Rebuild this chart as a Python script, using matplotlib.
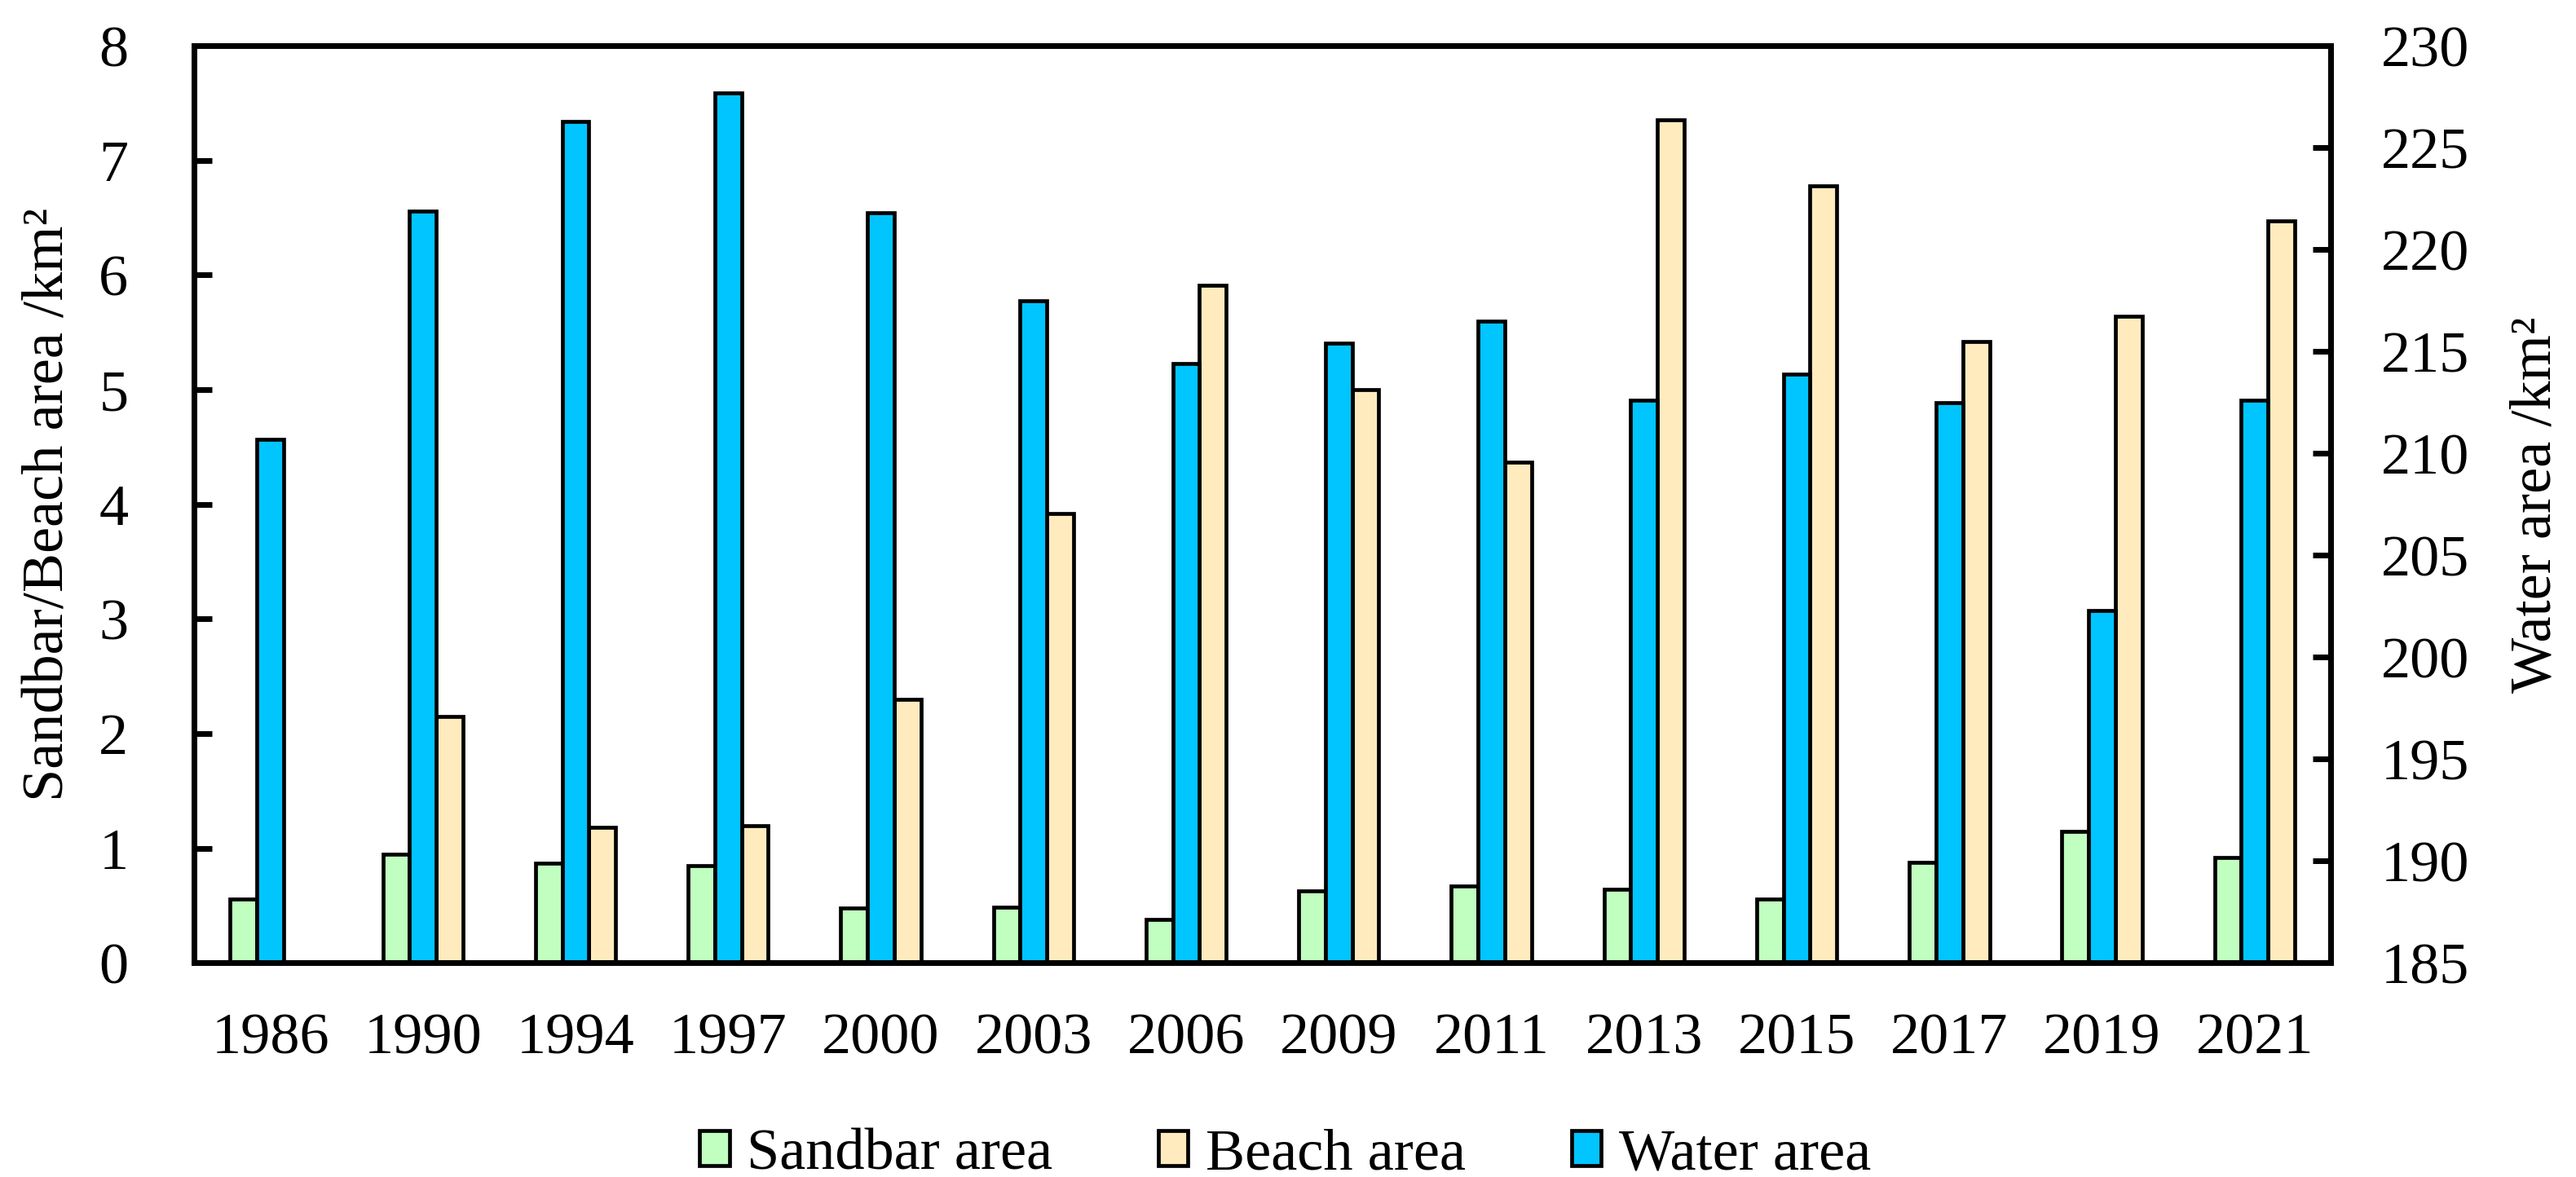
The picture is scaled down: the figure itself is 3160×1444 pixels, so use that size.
import matplotlib
matplotlib.use("Agg")
import matplotlib.pyplot as plt
import numpy as np

plt.rcParams.update({
    "font.family": ["Liberation Serif", "DejaVu Serif"],
    "font.size": 26,
    "axes.linewidth": 2.5,
})

years = ["1986", "1990", "1994", "1997", "2000", "2003", "2006",
         "2009", "2011", "2013", "2015", "2017", "2019", "2021"]
sandbar = [0.56, 0.95, 0.87, 0.85, 0.48, 0.49, 0.38,
           0.63, 0.67, 0.64, 0.56, 0.88, 1.15, 0.92]
beach = [0.0, 2.15, 1.18, 1.20, 2.30, 3.92, 5.91,
         5.00, 4.37, 7.35, 6.78, 5.42, 5.64, 6.47]
water = [210.7, 221.9, 226.3, 227.7, 221.8, 217.5, 214.4,
         215.4, 216.5, 212.6, 213.9, 212.5, 202.3, 212.6]

C_SAND = "#C0FFC0"
C_BEACH = "#FFEBBE"
C_WATER = "#00C5FF"

x = np.arange(len(years))
w = 0.175
edge = dict(edgecolor="black", linewidth=1.7)

fig = plt.figure(figsize=(15.8, 7.22), dpi=200)
ax = fig.add_axes([0.0753, 0.1818, 0.8296, 0.7794])
ax2 = ax.twinx()

b1 = ax.bar(x - w, sandbar, w, color=C_SAND, label="Sandbar area", **edge)
b2 = ax.bar(x + w, beach, w, color=C_BEACH, label="Beach area", **edge)
b3 = ax2.bar(x, water, w, color=C_WATER, label="Water area", **edge)

ax.set_xlim(-0.5, len(years) - 0.5)
ax.set_ylim(0, 8)
ax.set_yticks(np.arange(0, 9, 1))
ax2.set_ylim(185, 230)
ax2.set_yticks(np.arange(185, 231, 5))

ax.set_xticks(x)
ax.set_xticklabels(years)
ax.tick_params(axis="x", length=0, pad=22)
ax.tick_params(axis="y", direction="in", length=8, width=2.5, pad=29)
ax2.tick_params(axis="y", direction="in", length=8, width=2.5, pad=22)

ax.set_ylabel("Sandbar/Beach area /km²")
ax.yaxis.label.set_va("center")
ax.yaxis.set_label_coords(-0.068, 0.5)
ax2.set_ylabel("Water area /km²")
ax2.yaxis.label.set_va("center")
ax2.yaxis.set_label_coords(1.096, 0.5)

fig.legend([b1, b2, b3], ["Sandbar area", "Beach area", "Water area"],
           loc="center", bbox_to_anchor=(0.499, 0.019), ncol=3,
           frameon=False, handlelength=0.5, handleheight=0.55,
           handletextpad=0.3, columnspacing=1.8, borderaxespad=0)

fig.savefig("out.png", dpi=200, facecolor="white")
